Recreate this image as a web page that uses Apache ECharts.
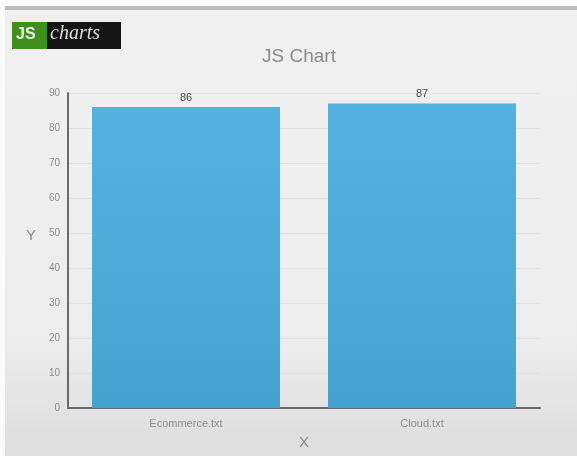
<!DOCTYPE html>
<html>
<head>
<meta charset="utf-8">
<script src="https://cdn.jsdelivr.net/npm/echarts@6/dist/echarts.min.js"></script>
<style>
  html, body { margin: 0; padding: 0; background: #eeeeee; }
  #chart { width: 577px; height: 456px; }
</style>
</head>
<body>
<div id="chart"></div>
<script>
// Files and their values
const categories = ['Ecommerce.txt', 'Cloud.txt'];
const values = [86, 87];
const yTicks = [0, 10, 20, 30, 40, 50, 60, 70, 80, 90];

const chart = echarts.init(document.getElementById('chart'));

const barFill = new echarts.graphic.LinearGradient(0, 0, 0, 1, [
  { offset: 0, color: '#53b2df' },
  { offset: 1, color: '#44a3cf' }
]);

const font = 'Arial, Liberation Sans, sans-serif';

chart.setOption({
  backgroundColor: {
    type: 'linear', x: 0, y: 0, x2: 0, y2: 1,
    colorStops: [
      { offset: 0, color: '#f1f1f1' },
      { offset: 0.75, color: '#ececec' },
      { offset: 1, color: '#dddddd' }
    ]
  },
  animation: false,
  title: {
    text: 'JS Chart',
    left: 257,
    top: 42,
    textStyle: { fontFamily: font, fontSize: 19, fontWeight: 'normal', color: '#8a8a8a' }
  },
  graphic: [
    // white margin and grey band along the top and left edges
    { type: 'rect', left: 0, top: 0, shape: { width: 577, height: 6 }, style: { fill: '#fbfbfb' }, silent: true },
    { type: 'rect', left: 0, top: 0, shape: { width: 5, height: 456 }, style: { fill: '#fbfbfb' }, silent: true },
    { type: 'rect', left: 5, top: 6, shape: { width: 572, height: 4 }, style: { fill: '#bcbcbc' }, silent: true },
    // "JS charts" badge
    { type: 'rect', left: 12, top: 22, shape: { width: 35, height: 27 }, style: { fill: '#3f8f1c' }, silent: true },
    { type: 'rect', left: 47, top: 22, shape: { width: 74, height: 27 }, style: { fill: '#151515' }, silent: true },
    { type: 'text', left: 16, top: 27, style: { text: 'JS', fill: '#e8f5e0', font: 'bold 16px ' + font }, silent: true },
    { type: 'text', left: 50, top: 24, style: { text: 'charts', fill: '#dcdcdc', font: 'italic 20px Liberation Serif, DejaVu Serif, serif' }, silent: true },
    // y axis title, set a little above the middle of the axis
    { type: 'text', left: 26, top: 228, style: { text: 'Y', fill: '#8a8a8a', font: '15px ' + font }, silent: true }
  ],
  grid: { left: 68, right: 37, top: 93, bottom: 48, outerBoundsMode: 'none', containLabel: false },
  xAxis: {
    type: 'category',
    data: categories,
    name: 'X',
    nameLocation: 'middle',
    nameGap: 27,
    nameTextStyle: { color: '#8a8a8a', fontSize: 15, fontFamily: font },
    axisLine: { show: true, lineStyle: { color: '#6b6b6b', width: 2 } },
    axisTick: { show: false },
    axisLabel: { color: '#8c8c8c', fontSize: 11, margin: 10, fontFamily: font }
  },
  yAxis: {
    type: 'value',
    min: 0,
    max: 90,
    interval: 10,
    axisLine: { show: true, lineStyle: { color: '#6b6b6b', width: 2 } },
    axisTick: { show: false },
    axisLabel: {
      color: '#8c8c8c', fontSize: 10, margin: 8, fontFamily: font,
      formatter: v => (yTicks.includes(v) ? String(v) : '')
    },
    splitLine: { show: true, lineStyle: { color: '#e2e2e2', width: 1 } }
  },
  series: [{
    type: 'bar',
    data: values,
    barWidth: 188,
    itemStyle: { color: barFill },
    label: {
      show: true,
      position: 'top',
      distance: 4,
      color: '#4a4a4a',
      fontSize: 11,
      fontFamily: font
    }
  }]
});
</script>
</body>
</html>
